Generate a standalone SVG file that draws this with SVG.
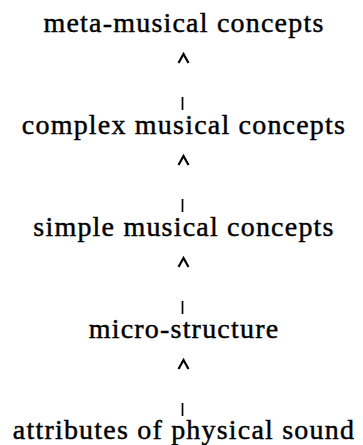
<svg xmlns="http://www.w3.org/2000/svg" width="363" height="445" viewBox="0 0 363 445">
  <style>
    .label { font-family: "Liberation Serif", "Times New Roman", serif; font-size: 28px; letter-spacing: 1.2px; fill: #000; stroke: #000; stroke-width: 0.45; text-anchor: middle; }
    .head { fill: none; stroke: #000; stroke-width: 2.2; stroke-linejoin: miter; }
    .shaft { stroke: #000; stroke-width: 1.7; }
  </style>
  <rect width="363" height="445" fill="#fff"/>

  <g id="meta-musical"><text class="label" x="184" y="32">meta-musical concepts</text></g>
  <g id="complex-musical"><text class="label" x="184" y="134">complex musical concepts</text></g>
  <g id="simple-musical"><text class="label" x="184" y="236">simple musical concepts</text></g>
  <g id="micro-structure"><text class="label" x="184" y="338">micro-structure</text></g>
  <g id="physical-sound"><text class="label" x="184" y="439">attributes of physical sound</text></g>

  <g id="connectors">
    <!-- each level points up to the one above: a caret head and a short shaft -->
    <g transform="translate(0,0)">
      <path class="head" d="M178.5,63 L183.5,54 L188.5,63"/>
      <line class="shaft" x1="182.5" y1="97" x2="182.5" y2="110"/>
    </g>
    <g transform="translate(0,102)">
      <path class="head" d="M178.5,63 L183.5,54 L188.5,63"/>
      <line class="shaft" x1="182.5" y1="97" x2="182.5" y2="110"/>
    </g>
    <g transform="translate(0,204)">
      <path class="head" d="M178.5,63 L183.5,54 L188.5,63"/>
      <line class="shaft" x1="182.5" y1="97" x2="182.5" y2="110"/>
    </g>
    <g transform="translate(0,306)">
      <path class="head" d="M178.5,63 L183.5,54 L188.5,63"/>
      <line class="shaft" x1="182.5" y1="97" x2="182.5" y2="110"/>
    </g>
  </g>
</svg>
